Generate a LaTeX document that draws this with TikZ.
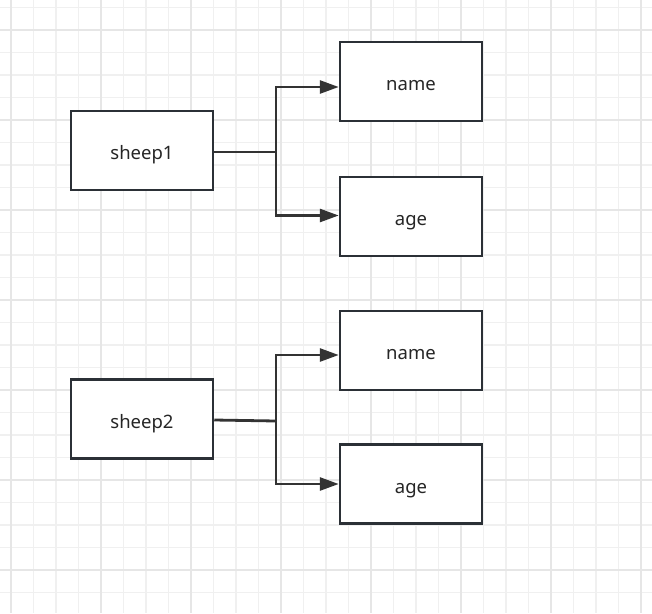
\documentclass[tikz,border=0pt]{standalone}
\usepackage{fontspec}
\setmainfont{Noto Sans}
\usetikzlibrary{arrows.meta}
\definecolor{boxc}{HTML}{2B3036}
\definecolor{linec}{HTML}{333333}
\definecolor{textc}{HTML}{262626}
\definecolor{gridminor}{HTML}{F0F0F0}
\definecolor{gridmajor}{HTML}{E6E6E6}
\begin{document}
\begin{tikzpicture}[x=1pt,y=-1pt,
  box/.style={draw=boxc, line width=2.5pt, fill=white, minimum width=142pt, minimum height=79pt, inner sep=0pt, text=textc, text height=18pt, text depth=0pt, font=\fontsize{18.5}{22}\selectfont},
  conn/.style={draw=linec, line width=2.8pt},
  arr/.style={conn, -{Triangle[length=19pt,width=13pt]}}]
\useasboundingbox (0,0) rectangle (652,613);
\fill[white] (0,0) rectangle (652,613);
% minor grid
\foreach \k in {0,...,28} \draw[gridminor, line width=1.1pt] ({11+22.5*\k},0) -- ({11+22.5*\k},613);
\foreach \k in {0,...,26} \draw[gridminor, line width=1.1pt] (0,{7.5+22.5*\k}) -- (652,{7.5+22.5*\k});
% major grid
\foreach \k in {0,...,7} \draw[gridmajor, line width=1.3pt] ({11+90*\k},0) -- ({11+90*\k},613);
\foreach \k in {0,...,6} \draw[gridmajor, line width=1.3pt] (0,{30+90*\k}) -- (652,{30+90*\k});
% nodes
\node[box] (sheep1) at (142,150.5) {sheep1};
\node[box] (name1) at (411,81.5) {name};
\node[box] (age1) at (411,216.5) {age};
\node[box] (sheep2) at (142,419) {sheep2};
\node[box] (name2) at (411,350.5) {name};
\node[box] (age2) at (411,484) {age};
% connectors
\coordinate (j1) at (276,152);
\coordinate (j2) at (276,421);
\draw[conn] ([yshift=-1.5pt]sheep1.east) -- (j1);
\draw[arr] (j1) |- ([yshift=-5.5pt]name1.west);
\draw[arr] (j1) |- ([yshift=1pt]age1.west);
\draw[conn] ([yshift=-1pt]sheep2.east) -- (j2);
\draw[arr] (j2) |- ([yshift=-4.5pt]name2.west);
\draw[arr] (j2) |- (age2.west);
\end{tikzpicture}
\end{document}
